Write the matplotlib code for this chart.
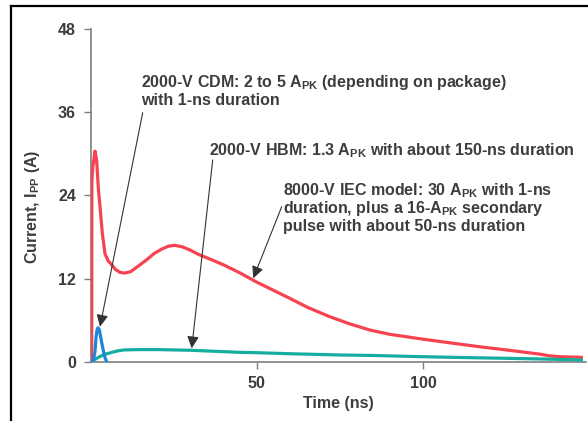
import matplotlib
matplotlib.use("Agg")
import matplotlib.pyplot as plt
from matplotlib.lines import Line2D

# ---- data ----
iec_t = [0, 0.3, 0.35, 0.6, 1.3, 1.8, 2.3, 2.8, 3.5, 4.3, 5.2, 6.3, 7.5, 8.8, 10.3, 12, 14, 16.8,
         19, 21.5, 23.5, 25.3, 27.5, 30, 32.4, 36, 39.9, 45, 49.9, 55, 59.9, 65, 71.9, 78, 84,
         90, 100, 110, 118, 125, 130, 135, 138, 141, 147.6]
iec_i = [0, 0, 26, 28, 30.4, 29, 25, 22.4, 18.5, 15.6, 14.6, 14.0, 13.3, 12.9, 12.8, 13.0, 13.7, 14.7,
         15.6, 16.3, 16.7, 16.8, 16.6, 16.1, 15.5, 14.8, 14.0, 12.8, 11.5, 10.3, 9.15, 7.9, 6.5, 5.45, 4.57,
         3.95, 3.25, 2.6, 2.1, 1.7, 1.4, 1.1, 0.85, 0.72, 0.63]

cdm_t = [0.3, 0.9, 1.3, 1.6, 1.9, 2.2, 2.6, 3.1, 3.7, 4.3, 4.8]
cdm_i = [0, 0.4, 1.5, 3.5, 4.6, 4.9, 4.6, 3.3, 1.8, 0.6, 0]

hbm_t = [0.3, 1.5, 3, 4.5, 6, 8, 10, 15, 20, 25, 30, 35, 40, 45, 50, 60, 75, 85, 100, 112, 125, 135, 147.6]
hbm_i = [0, 0.4, 0.8, 1.1, 1.3, 1.55, 1.7, 1.75, 1.75, 1.7, 1.65, 1.55, 1.45, 1.35, 1.3, 1.15, 0.97,
         0.9, 0.72, 0.6, 0.49, 0.4, 0.25]

x_ticks = [50, 100]
y_ticks = [0, 12, 24, 36, 48]

cdm_lines = [r"2000-V CDM: 2 to 5 A$_{PK}$ (depending on package)", "with 1-ns duration"]
hbm_lines = [r"2000-V HBM: 1.3 A$_{PK}$ with about 150-ns duration"]
iec_lines = [r"8000-V IEC model: 30 A$_{PK}$ with 1-ns",
             r"duration, plus a 16-A$_{PK}$ secondary",
             "pulse with about 50-ns duration"]

# ---- style ----
plt.rcParams['font.family'] = ['Liberation Sans', 'DejaVu Sans']
plt.rcParams['font.weight'] = 'bold'
plt.rcParams['mathtext.fontset'] = 'custom'
plt.rcParams['mathtext.rm'] = 'Liberation Sans:bold'
plt.rcParams['mathtext.it'] = 'Liberation Sans:bold'
plt.rcParams['mathtext.bf'] = 'Liberation Sans:bold'

TXT = '#3d3d3d'
AX = '#7f7f7f'
FS = 11.5

W, H = 588, 421
fig = plt.figure(figsize=(W / 100, H / 100), dpi=100)
fig.patch.set_facecolor('white')

x0, x1 = 90.7, 586.0
y0, y1 = 361.7, 29.3
ax = fig.add_axes([x0 / W, 1 - y0 / H, (x1 - x0) / W, (y0 - y1) / H])
ax.set_xlim(0, 149)
ax.set_ylim(0, 48)

ax.plot(iec_t, iec_i, color='#f7434f', lw=2.3, solid_joinstyle='round', zorder=3)
ax.plot(hbm_t, hbm_i, color='#14ad9f', lw=2.3, solid_joinstyle='round', zorder=3)
ax.plot(cdm_t, cdm_i, color='#1f85d6', lw=2.3, solid_joinstyle='round', zorder=4)

for s in ['top', 'right']:
    ax.spines[s].set_visible(False)
for s in ['left', 'bottom']:
    ax.spines[s].set_color(AX)
    ax.spines[s].set_linewidth(1.2)

ax.set_xticks(x_ticks)
ax.set_yticks(y_ticks)
ax.set_xticklabels([str(v) for v in x_ticks])
ax.set_yticklabels([str(v) for v in y_ticks])
ax.tick_params(axis='both', direction='out', length=5.3, width=1.0, color=AX,
               labelsize=FS, labelcolor=TXT, pad=5.3)

ax.set_xlabel("Time (ns)", fontsize=FS, color=TXT, fontweight='bold', va='center')
ax.xaxis.set_label_coords(0.5, (y0 - 403.3) / (y0 - y1))
ax.set_ylabel(r"Current, I$_{PP}$ (A)", fontsize=FS, color=TXT, fontweight='bold', va='center')
ax.yaxis.set_label_coords((33 - x0) / (x1 - x0), (y0 - 207) / (y0 - y1))

def px2data(px, py):
    return ((px - x0) / (x1 - x0) * 149, (y0 - py) / (y0 - y1) * 48)

def put_lines(lines, px, baselines):
    for line, by in zip(lines, baselines):
        x, y = px2data(px, by)
        ax.text(x, y, line, fontsize=FS, color=TXT, fontweight='bold',
                ha='left', va='baseline', zorder=5, clip_on=False)

put_lines(cdm_lines, 141, [87.3, 104.7])
put_lines(hbm_lines, 208.7, [155])
put_lines(iec_lines, 283.3, [195, 213, 231])

arrow_kw = dict(arrowstyle='-|>,head_length=0.45,head_width=0.22', color='#333333', lw=0.8,
                mutation_scale=16, shrinkA=0, shrinkB=0)
for (sx, sy), (ex, ey) in [((142.7, 112.7), (100, 326.7)),
                           ((212.7, 160), (191.7, 348.3)),
                           ((281.7, 206.7), (253.3, 278.3))]:
    ax.annotate('', xy=px2data(ex, ey), xytext=px2data(sx, sy),
                arrowprops=arrow_kw, zorder=6, annotation_clip=False)

# frame of the original picture
fig.add_artist(Line2D([11 / W, 1], [1 - 6 / H, 1 - 6 / H], color='black', lw=1.6))
fig.add_artist(Line2D([11 / W, 11 / W], [0, 1 - 6 / H], color='black', lw=1.6))

fig.savefig("out.png", dpi=100, facecolor='white')
